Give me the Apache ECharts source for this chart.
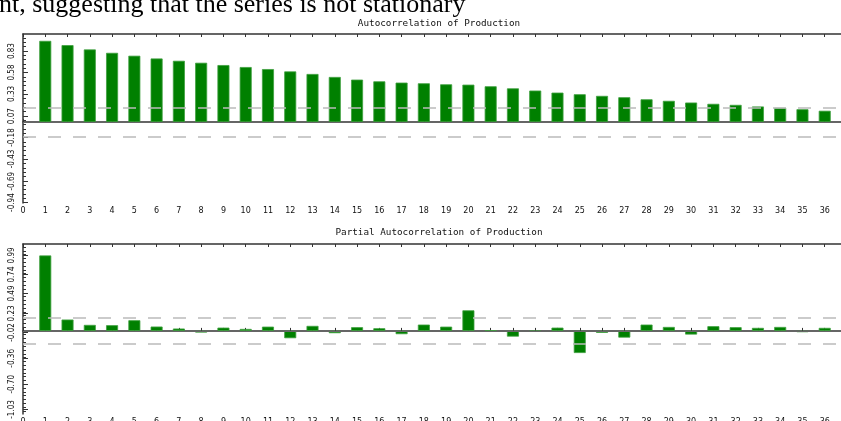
<!DOCTYPE html>
<html>
<head>
<meta charset="utf-8">
<script src="https://cdn.jsdelivr.net/npm/echarts@6/dist/echarts.min.js"></script>
<style>
  html, body { margin: 0; padding: 0; background: #fff; }
  #chart { width: 841px; height: 421px; }
</style>
</head>
<body>
<div id="chart"></div>
<script>
// lags 1..36
const lags = [1, 2, 3, 4, 5, 6, 7, 8, 9, 10, 11, 12, 13, 14, 15, 16, 17, 18,
  19, 20, 21, 22, 23, 24, 25, 26, 27, 28, 29, 30, 31, 32, 33, 34, 35, 36];

// autocorrelation
const acfValues = [0.95, 0.90, 0.85, 0.81, 0.776, 0.744, 0.717, 0.694, 0.667, 0.644,
  0.62, 0.593, 0.563, 0.528, 0.497, 0.477, 0.462, 0.454, 0.442, 0.438,
  0.419, 0.395, 0.369, 0.345, 0.326, 0.307, 0.291, 0.267, 0.249, 0.229,
  0.214, 0.202, 0.183, 0.167, 0.151, 0.133];

// partial autocorrelation
const pacfValues = [0.99, 0.149, 0.079, 0.075, 0.14, 0.057, 0.031, -0.022, 0.043, 0.026,
  0.056, -0.096, 0.066, -0.03, 0.049, 0.035, -0.043, 0.083, 0.056, 0.27,
  0.005, -0.075, -0.005, 0.043, -0.29, -0.026, -0.088, 0.083, 0.052, -0.048,
  0.062, 0.049, 0.04, 0.052, -0.017, 0.04];

// y tick labels as printed
const acfTickLabels = [-0.94, -0.69, -0.43, -0.18, 0.07, 0.33, 0.58, 0.83];
const pacfTickLabels = [-1.03, -0.70, -0.36, -0.02, 0.23, 0.49, 0.74, 0.99];

// confidence band
const acfBand = [0.172, -0.166];
const pacfBand = [0.175, -0.175];

const titles = ['Autocorrelation of Production', 'Partial Autocorrelation of Production'];

const myChart = echarts.init(document.getElementById('chart'));

const green = '#008000';
const axisColor = '#333';
const labelFont = '"Liberation Sans Narrow", "DejaVu Sans Condensed", sans-serif';

function minorTicks(from, to, step) {
  let out = [];
  for (let v = from; v <= to + 1e-9; v += step) out.push(+v.toFixed(4));
  return out;
}

function xAxes(gridIndex) {
  return [
    {
      gridIndex: gridIndex, type: 'value', position: 'bottom',
      min: 0, max: 37, interval: 1,
      axisLine: { show: true, lineStyle: { color: axisColor, width: 1.5 } },
      axisTick: { show: true, inside: true, length: 3, lineStyle: { color: axisColor } },
      axisLabel: { color: '#111', fontSize: 8, fontFamily: 'DejaVu Sans', margin: 4 },
      splitLine: { show: false }
    },
    {
      gridIndex: gridIndex, type: 'value', position: 'top',
      min: 0, max: 37, interval: 1,
      axisLine: { show: true, onZero: false, lineStyle: { color: axisColor, width: 1.5 } },
      axisTick: { show: true, inside: true, length: 3, lineStyle: { color: axisColor } },
      axisLabel: { show: false },
      splitLine: { show: false }
    }
  ];
}

function yAxes(gridIndex, min, max, tickLabels, minor) {
  return [
    {
      gridIndex: gridIndex, type: 'value', position: 'left',
      min: min, max: max,
      axisLine: { show: true, onZero: false, lineStyle: { color: axisColor, width: 1.5 } },
      axisTick: { show: true, inside: true, length: 5, customValues: tickLabels, lineStyle: { color: axisColor } },
      axisLabel: {
        customValues: tickLabels, rotate: 90, margin: 7,
        color: '#111', fontSize: 8, fontFamily: labelFont,
        formatter: function (v) { return v.toFixed(2); }
      },
      splitLine: { show: false }
    },
    {
      gridIndex: gridIndex, type: 'value', position: 'left',
      min: min, max: max,
      axisLine: { show: false },
      axisTick: { show: true, inside: true, length: 3, customValues: minor, lineStyle: { color: axisColor } },
      axisLabel: { show: false },
      splitLine: { show: false }
    }
  ];
}

function barSeries(idx, values, band) {
  return {
    type: 'bar',
    xAxisIndex: idx * 2, yAxisIndex: idx * 2,
    data: lags.map(function (l, i) { return [l, values[i]]; }),
    barWidth: 12,
    itemStyle: { color: green, borderColor: '#3f9f3f', borderWidth: 0.8 },
    markLine: {
      silent: true, symbol: 'none', label: { show: false },
      data: [
        { yAxis: 0, lineStyle: { color: '#666', width: 1, type: 'solid' } },
        { yAxis: band[0], lineStyle: { color: '#bbb', width: 1.5, type: [13, 12] } },
        { yAxis: band[1], lineStyle: { color: '#bbb', width: 1.5, type: [13, 12] } }
      ]
    }
  };
}

const titleStyle = { fontSize: 9.3, fontWeight: 'normal', fontFamily: 'DejaVu Sans Mono', color: '#111' };

myChart.setOption({
  backgroundColor: '#fff',
  animation: false,
  title: [
    { text: titles[0], left: 434, top: 14, textAlign: 'center', textStyle: titleStyle },
    { text: titles[1], left: 434, top: 223, textAlign: 'center', textStyle: titleStyle }
  ],
  graphic: [
    {
      type: 'text', left: -1, top: -8,
      style: {
        text: 'nt, suggesting that the series is not stationary',
        font: '26px "Liberation Serif", "Times New Roman", serif',
        fill: '#000'
      }
    }
  ],
  grid: [
    { left: 23, top: 34, width: 824, height: 169, outerBoundsMode: 'none' },
    { left: 23, top: 244, width: 824, height: 170, outerBoundsMode: 'none' }
  ],
  xAxis: xAxes(0).concat(xAxes(1)),
  yAxis: yAxes(0, -0.945, 1.03, acfTickLabels, minorTicks(-0.94, 1.0, 0.0506))
    .concat(yAxes(1, -1.09, 1.14, pacfTickLabels, minorTicks(-1.05, 1.1, 0.05))),
  series: [
    barSeries(0, acfValues, acfBand),
    barSeries(1, pacfValues, pacfBand)
  ]
});

window.addEventListener('resize', function () { myChart.resize(); });
</script>
</body>
</html>
